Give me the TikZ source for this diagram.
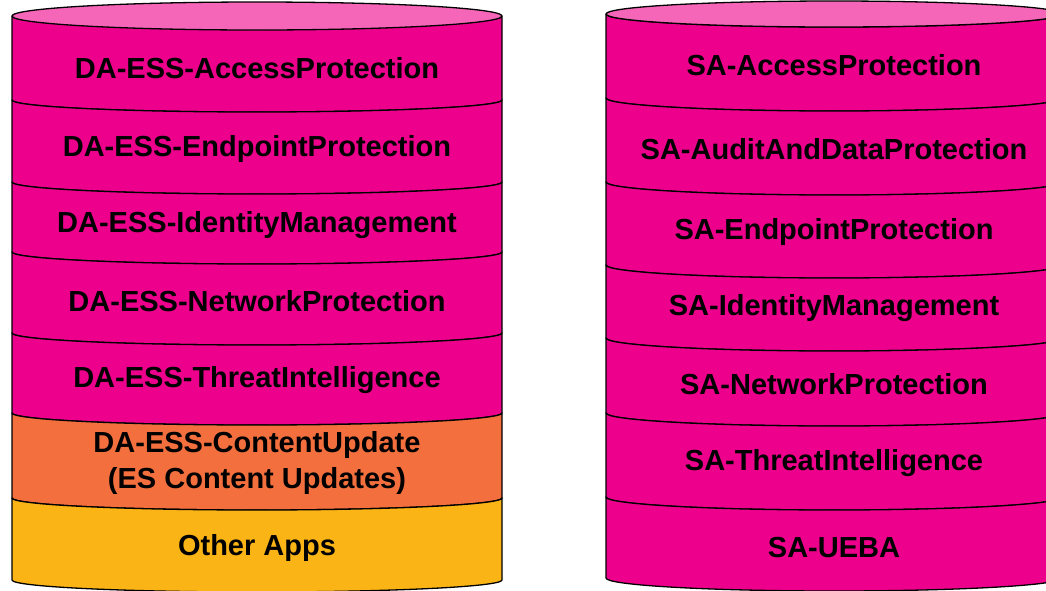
\documentclass[tikz,border=0pt]{standalone}
\usepackage{fontspec}
\setmainfont{Liberation Sans}
\definecolor{magF}{RGB}{236,0,140}
\definecolor{topF}{RGB}{245,102,185}
\definecolor{oraF}{RGB}{243,112,62}
\definecolor{yelF}{RGB}{251,180,21}
\tikzset{
  segline/.style={draw=black,line width=1.3pt,line join=round},
  lbl/.style={font=\bfseries\fontsize{29}{36}\selectfont,align=center,inner sep=0pt,text=black,yshift=-3pt}
}
\newcommand\cylseg[6]{%
  \pgfmathsetmacro\segrx{(#2-#1)/2}%
  \filldraw[segline,fill=#6] (#1,#3) -- (#1,#4)
    arc[start angle=180,end angle=0,x radius=\segrx,y radius=#5]
    -- (#2,#3)
    arc[start angle=0,end angle=180,x radius=\segrx,y radius=#5] -- cycle;}
\begin{document}
\begin{tikzpicture}[x=1pt,y=-1pt]
\useasboundingbox (0,0) rectangle (1046,590);
\clip (0,0) rectangle (1046,590);
% left cylinder
\cylseg{12}{502}{16}{100}{12}{magF}
\cylseg{12}{502}{100}{182}{12}{magF}
\cylseg{12}{502}{182}{252}{12}{magF}
\cylseg{12}{502}{252}{333}{12}{magF}
\cylseg{12}{502}{333}{413}{12}{magF}
\cylseg{12}{502}{413}{498}{12}{oraF}
\cylseg{12}{502}{498}{580}{12}{yelF}
\filldraw[segline,fill=topF] (257,16) ellipse[x radius=245,y radius=14];
% right cylinder
\cylseg{606}{1062}{14}{98}{13}{magF}
\cylseg{606}{1062}{98}{182}{13}{magF}
\cylseg{606}{1062}{182}{265}{13}{magF}
\cylseg{606}{1062}{265}{338}{13}{magF}
\cylseg{606}{1062}{338}{413}{13}{magF}
\cylseg{606}{1062}{413}{497}{13}{magF}
\cylseg{606}{1062}{497}{578}{13}{magF}
\filldraw[segline,fill=topF] (834,14) ellipse[x radius=228,y radius=13];
% labels left
\node[lbl] (l1) at (257,65) {DA-ESS-AccessProtection};
\node[lbl] (l2) at (257,146) {DA-ESS-EndpointProtection};
\node[lbl] (l3) at (257,222) {DA-ESS-IdentityManagement};
\node[lbl] (l4) at (257,298) {DA-ESS-NetworkProtection};
\node[lbl] (l5) at (257,377) {DA-ESS-ThreatIntelligence};
\node[lbl] (l6) at (257,460) {DA-ESS-ContentUpdate\\(ES Content Updates)};
\node[lbl] (l7) at (257,545) {Other Apps};
% labels right
\node[lbl] (r1) at (834,62) {SA-AccessProtection};
\node[lbl] (r2) at (834,146) {SA-AuditAndDataProtection};
\node[lbl] (r3) at (834,229) {SA-EndpointProtection};
\node[lbl] (r4) at (834,305) {SA-IdentityManagement};
\node[lbl] (r5) at (834,381) {SA-NetworkProtection};
\node[lbl] (r6) at (834,460) {SA-ThreatIntelligence};
\node[lbl] (r7) at (834,545) {SA-UEBA};
\end{tikzpicture}
\end{document}
